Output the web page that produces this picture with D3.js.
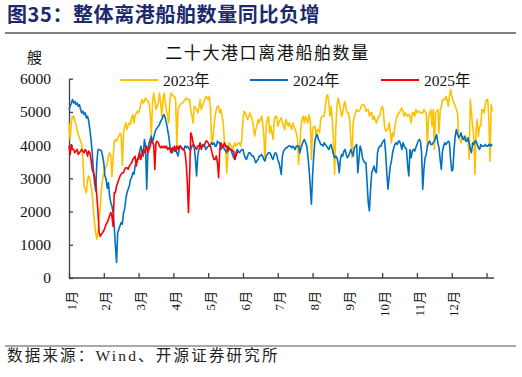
<!DOCTYPE html>
<html><head><meta charset="utf-8">
<script src="https://cdn.jsdelivr.net/npm/d3@7"></script>
<style>
body{margin:0;background:#fff;}
svg{display:block;}
</style></head><body>
<svg id="c" width="522" height="377"></svg>
<script>
const pageTitle = "图35：整体离港船舶数量同比负增";
const chartTitle = "二十大港口离港船舶数量";
const unitLabel = "艘";
const sourceText = "数据来源：Wind、开源证券研究所";
const seriesNames = ["2023年", "2024年", "2025年"];
const seriesColors = ["#FFC000", "#0070C0", "#FF0000"];
const yTicks = [0, 1000, 2000, 3000, 4000, 5000, 6000];
const monthLabels = ["1月","2月","3月","4月","5月","6月","7月","8月","9月","10月","11月","12月",""];
const monthTickDays = [0,30,60,90,120,150,180,210,240,270,300,330,360];

const y2023 = [
4670,4170,4670,4870,4870,4720,4620,4470,4320,4220,
4120,4020,3570,2770,2670,2570,2970,3070,2970,2770,
2520,2070,1670,1370,1170,1370,1770,2170,2670,2970,
3170,3270,3360,3470,3670,3770,3700,3050,3570,4120,
4160,4120,4200,4270,4360,4300,3400,4360,4570,4670,
4470,4600,4670,4620,4820,4920,4670,4870,4970,5020,
4970,5070,5270,5370,5270,5320,5420,5370,5320,5270,
4970,4270,5270,5570,5370,5070,5170,5270,5570,5270,
4870,5370,5570,5270,5070,4870,4670,5370,5570,5520,
5470,5470,5320,3970,5070,5170,5220,5270,5270,5320,
5370,5420,5370,5370,5370,5020,4870,4670,5170,5120,
5070,4970,5120,5370,5070,5170,5270,5370,5470,5420,
5370,5470,5070,4070,4170,4570,4870,5070,5170,5170,
4970,5070,4870,4670,4070,3970,3170,3770,4070,4020,
3970,3870,3970,4070,3970,4020,4070,4070,3970,4170,
4770,5020,4970,4870,4770,4870,4970,4870,4770,4570,
4270,4470,4570,4770,4670,4770,4870,4670,4270,3570,
4570,4770,4870,4370,4570,4370,4170,4770,4870,4870,
4570,4670,4770,4820,4670,4570,4470,4770,4670,4570,
4670,4570,4470,4670,4570,4470,4370,4170,3420,3970,
4570,4770,4870,4670,4870,4770,4670,4920,4770,3570,
4470,4570,4570,4270,4470,4470,4370,4770,4870,4870,
4870,5170,5470,5520,5270,4870,5170,4770,4170,3120,
4470,5170,5420,5270,5070,4870,4970,5220,5320,5070,
4970,4970,4770,4170,3620,4670,4870,4970,5070,5020,
5020,5070,5170,5220,5220,5170,5020,5070,5070,4870,
4970,4970,4770,4870,4770,4670,4770,4870,4870,5070,
5170,5070,4570,4420,4470,4470,4670,4420,4070,4370,
4270,4570,4770,4870,4970,4970,5070,5120,5020,4870,
4970,4920,4870,4920,4870,4670,4970,4970,4870,5070,
4970,5020,5020,4970,4970,4970,5070,5020,4970,3970,
4870,4970,5070,4570,5070,3870,4970,5020,5070,4370,
5020,5170,5370,5370,5370,5470,5370,5170,5470,5670,
5470,5370,5270,5170,5070,4970,4270,4170,4070,4270,
4170,4170,4270,4170,4170,3570,5370,4970,4570,4270,
3120,4470,4770,4270,4570,4570,5070,5070,4970,5270,
5370,5370,4770,3520,5220,5020
];

const y2024 = [
5070,5170,5270,5370,5270,5320,5220,5270,5170,5220,
5070,4970,5020,4920,4970,4820,4870,4720,4470,4170,
3770,3270,2870,2620,3470,3870,3870,3850,3820,3670,
3470,3070,2970,2700,2870,2470,2270,2170,1970,1570,
970,470,1370,1470,1570,1670,1620,1970,2070,2370,
2570,2670,2770,2970,3020,3170,3120,3370,3470,3570,
3670,3820,3970,3770,3670,4170,3970,2670,3770,4070,
4170,4270,4070,4220,4370,4470,4520,4570,4620,4720,
4770,4870,4920,4820,4670,4470,4270,3970,3870,3770,
3920,3820,3870,3770,3670,3870,3970,3920,3870,3870,
3970,3920,3970,3920,3870,3870,3970,4020,3920,3570,
3070,3670,3870,3970,3920,4020,4020,3970,3870,3920,
3970,3970,4020,4070,4020,4070,3970,3970,4120,4070,
4070,3870,3920,3970,3870,3820,3770,3970,3920,3870,
3820,3720,3620,3570,3770,3870,3820,3770,3820,3870,
3870,3720,3620,3570,3670,3770,3770,3720,3670,3670,
3570,3470,3520,3570,3670,3670,3720,3670,3570,3520,
3670,3720,3770,3770,3720,3620,3570,3720,3770,3720,
3570,3470,3320,3120,3670,3820,3870,3920,3920,3970,
3970,3970,3920,3970,3920,3870,3970,3970,3970,3770,
3920,4020,4120,4170,4070,3970,3670,3270,2770,2220,
3070,3670,4120,4270,4320,4170,4120,4020,4020,3970,
4070,4020,3970,3920,3870,3970,4020,3870,3720,3620,
3670,3620,3470,3170,3570,3720,3670,3820,3870,3720,
3620,3670,3770,3870,3770,3670,3920,3970,4020,3170,
3570,3970,3870,3620,3520,3470,3470,2870,2270,2020,
2670,3170,3270,3370,3220,3170,3770,3920,3970,3970,
4070,4120,4170,3770,3170,2670,3020,3370,3520,3770,
3920,4020,4070,4020,4120,4120,4020,3870,4070,3970,
3920,3870,3370,3070,3870,3620,3820,3870,3820,3920,
4020,4120,4170,4120,3770,2670,3270,3620,3720,3970,
4070,4120,4020,4020,4070,4120,4220,4320,4070,3920,
3570,3270,3820,3970,4070,4020,4070,4120,4070,3570,
3220,3270,3870,4270,4470,4320,4220,4270,4370,4220,
4170,4270,4120,4120,4220,4070,3870,3770,4070,4020,
4120,4120,4020,3920,3870,4020,3970,3970,3970,4020,
3970,3970,4020,3970,4020,3970
];

const y2025 = [
3970,3720,4020,3870,3870,3770,3820,3870,3720,3770,
3820,3870,3820,3770,3870,3820,3670,3820,3770,3570,
3270,3170,3070,2870,2470,1970,1370,1250,1320,1370,
1420,1520,1620,1670,1770,1870,1970,1870,1550,2570,
2570,2770,2870,2970,3070,3120,3170,3170,3270,3320,
3320,3270,3370,3420,3470,3570,3620,3670,3370,3570,
3570,3770,3570,3720,3870,3770,3870,3970,3770,3870,
3970,4170,4070,4020,3270,4070,4120,4070,3970,3920,
3970,3920,3970,3920,3970,3870,3920,3870,3770,3920,
3870,3970,3820,3970,3870,3970,3970,3920,3870,3870,
3770,3470,2870,1970,3070,4370,4270,4070,3970,3920,
3870,3970,3970,4070,3870,3970,3970,4020,4120,4120,
4070,3970,3970,3820,3670,3570,3570,3670,3470,3020,
3870,4070,3970,3970,4070,3970,3970,3820,3920,3870,
3870,3820,3820,3570,3670,3770,3820
];

const seriesData = [y2023, y2024, y2025];

const svg = d3.select("#c");
const latin = "'Liberation Serif','Noto Sans CJK SC',serif";

// header
svg.append("text").attr("x", 7).attr("y", 22)
  .attr("font-family", "'Noto Sans CJK SC',sans-serif").attr("font-weight", 700)
  .attr("font-size", 20).attr("letter-spacing", 0.6).attr("fill", "#1B2A6B")
  .text(pageTitle);
svg.append("line").attr("x1", 5).attr("x2", 516).attr("y1", 33).attr("y2", 33)
  .attr("stroke", "#808080").attr("stroke-width", 2);

// footer
svg.append("line").attr("x1", 5).attr("x2", 516).attr("y1", 346).attr("y2", 346)
  .attr("stroke", "#555").attr("stroke-width", 1.2);
svg.append("text").attr("x", 7).attr("y", 361)
  .attr("font-family", latin).attr("font-size", 15.5).attr("letter-spacing", 2.2)
  .attr("fill", "#222").text(sourceText);

// chart title & unit
svg.append("text").attr("x", 267.5).attr("y", 59).attr("text-anchor", "middle")
  .attr("font-family", "'Noto Sans CJK SC',sans-serif").attr("font-size", 17)
  .attr("letter-spacing", 1.6).attr("fill", "#111").text(chartTitle);
svg.append("text").attr("x", 34.5).attr("y", 63).attr("text-anchor", "middle")
  .attr("font-family", "'Noto Sans CJK SC',sans-serif").attr("font-size", 15)
  .attr("fill", "#111").text(unitLabel);

const x = d3.scaleLinear().domain([0, 366]).range([69, 493.5]);
const y = d3.scaleLinear().domain([0, 6000]).range([278, 78.7]);

// axes
const yAxis = d3.axisLeft(y).tickValues(yTicks).tickSize(-4).tickSizeOuter(0).tickPadding(18)
  .tickFormat(d3.format("d"));
const gy = svg.append("g").attr("transform", "translate(69,0)").call(yAxis);
gy.selectAll("text").attr("font-family", latin).attr("font-size", 15.5).attr("fill", "#111");
gy.selectAll("line,path").attr("stroke", "#404040").attr("stroke-width", 1.3);

const xAxis = d3.axisBottom(x).tickValues(monthTickDays).tickSize(-5).tickSizeOuter(0)
  .tickFormat((d, i) => monthLabels[i]);
const gx = svg.append("g").attr("transform", "translate(0,278)").call(xAxis);
gx.select(".domain").attr("d", "M69,0H494");
gx.selectAll("line,path").attr("stroke", "#404040").attr("stroke-width", 1.3);
gx.selectAll("text").attr("font-family", latin).attr("font-size", 13).attr("fill", "#111")
  .attr("transform", "rotate(-90)").attr("text-anchor", "end")
  .attr("x", -13).attr("y", 1.5).attr("dy", "0.35em");

// lines
const line = d3.line().x((d, i) => x(i)).y(d => y(d));
seriesData.forEach((arr, k) => {
  svg.append("path").datum(arr).attr("d", line).attr("fill", "none")
    .attr("stroke", seriesColors[k]).attr("stroke-width", 1.6).attr("stroke-linejoin", "round");
});

// legend
const legendX = [120, 250, 381];
seriesNames.forEach((n, k) => {
  svg.append("line").attr("x1", legendX[k]).attr("x2", legendX[k] + 38)
    .attr("y1", 80).attr("y2", 80).attr("stroke", seriesColors[k]).attr("stroke-width", 2);
  svg.append("text").attr("x", legendX[k] + 43).attr("y", 85.5)
    .attr("font-family", latin).attr("font-size", 15.5).attr("fill", "#111").text(n);
});
</script>
</body></html>
